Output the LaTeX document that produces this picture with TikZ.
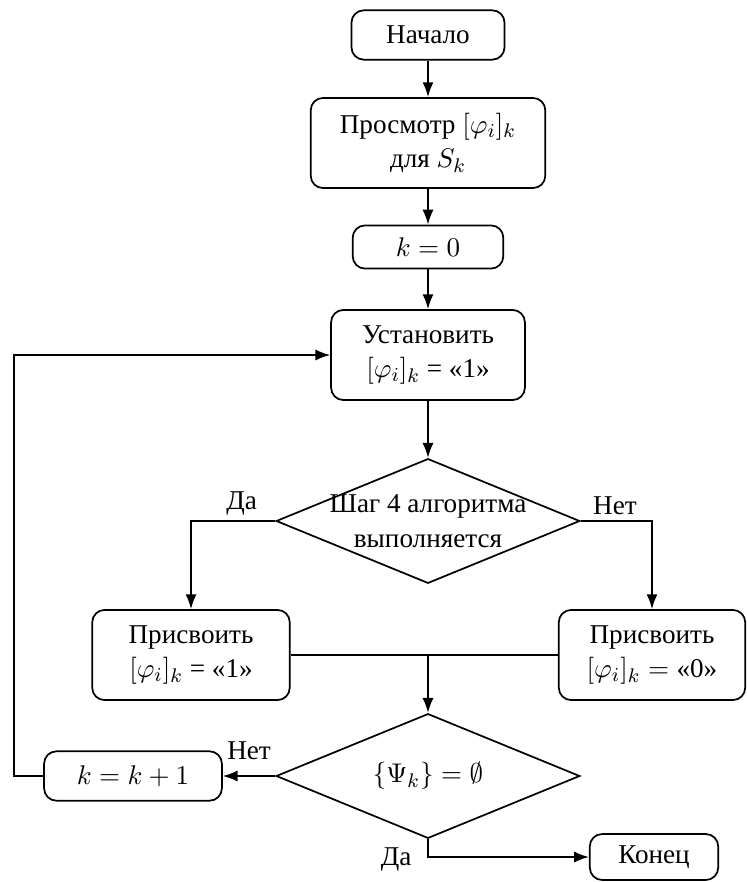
\documentclass[tikz,border=0pt]{standalone}
\usepackage{fontspec}
\setmainfont{Liberation Serif}
\usetikzlibrary{shapes.geometric,arrows.meta}

\begin{document}
\begin{tikzpicture}[x=0.405pt,y=-0.405pt,line width=0.7pt,font=\fontsize{11}{14}\selectfont,
blok/.style={draw,rounded corners=5pt,align=center,inner sep=2pt},
usl/.style={draw,diamond,aspect=2.4,align=center,inner sep=-3pt,minimum width=123pt,minimum height=50.5pt},
metka/.style={inner sep=2pt},
strel/.style={-{Latex[length=6pt,width=4.5pt]}}]
\useasboundingbox(0,0)rectangle(747,882);
% bloki
\node[blok,minimum width=62pt,minimum height=20pt](nach)at(428,35){Начало};
\node[blok,minimum width=95pt,minimum height=36.5pt](prosm)at(428,143){Просмотр $[\varphi_i]_k$\\для $S_k$};
\node[blok,minimum width=61pt,minimum height=17.5pt](knol)at(428,247){$k=0$};
\node[blok,minimum width=78.5pt,minimum height=36.5pt](ustan)at(428,355){Установить\\$[\varphi_i]_k$\ = «1»};
\node[usl](shag)at(428,521){Шаг 4 алгоритма\\выполняется};
\node[blok,minimum width=80pt,minimum height=36.5pt](prisv1)at(191,655){Присвоить\\$[\varphi_i]_k$\ = «1»};
\node[blok,minimum width=75.5pt,minimum height=36.5pt](prisv0)at(652,655){Присвоить\\$[\varphi_i]_k={}$«0»};
\node[usl](pusto)at(428,776){$\{\Psi_k\}=\emptyset$};
\node[blok,minimum width=72pt,minimum height=20pt](kinc)at(133,776){$k=k+1$};
\node[blok,minimum width=52pt,minimum height=18.6pt](konec)at(654,857){Конец};
\coordinate(sliv)at(prisv1.east-|pusto.north);
\coordinate(obhod)at(14,355);
% strelki
\draw[strel](nach)--(prosm);
\draw[strel](prosm)--(knol);
\draw[strel](knol)--(ustan);
\draw[strel](ustan)--(shag);
\draw[strel](shag.west)-|node[metka,pos=0.2,above]{Да}(prisv1.north);
\draw[strel](shag.east)-|node[metka,pos=0.24,above]{Нет}(prisv0.north);
\draw(prisv1.east)--(prisv0.west);
\draw[strel](sliv)--(pusto.north);
\draw[strel](pusto.west)--node[above=3pt]{Нет}(kinc.east);
\draw[strel](kinc.west)-|(obhod)--(ustan.west);
\draw[strel](pusto.south)|-node[pos=0.5,left=3pt,yshift=-1pt]{Да}(konec.west);
\end{tikzpicture}
\end{document}
